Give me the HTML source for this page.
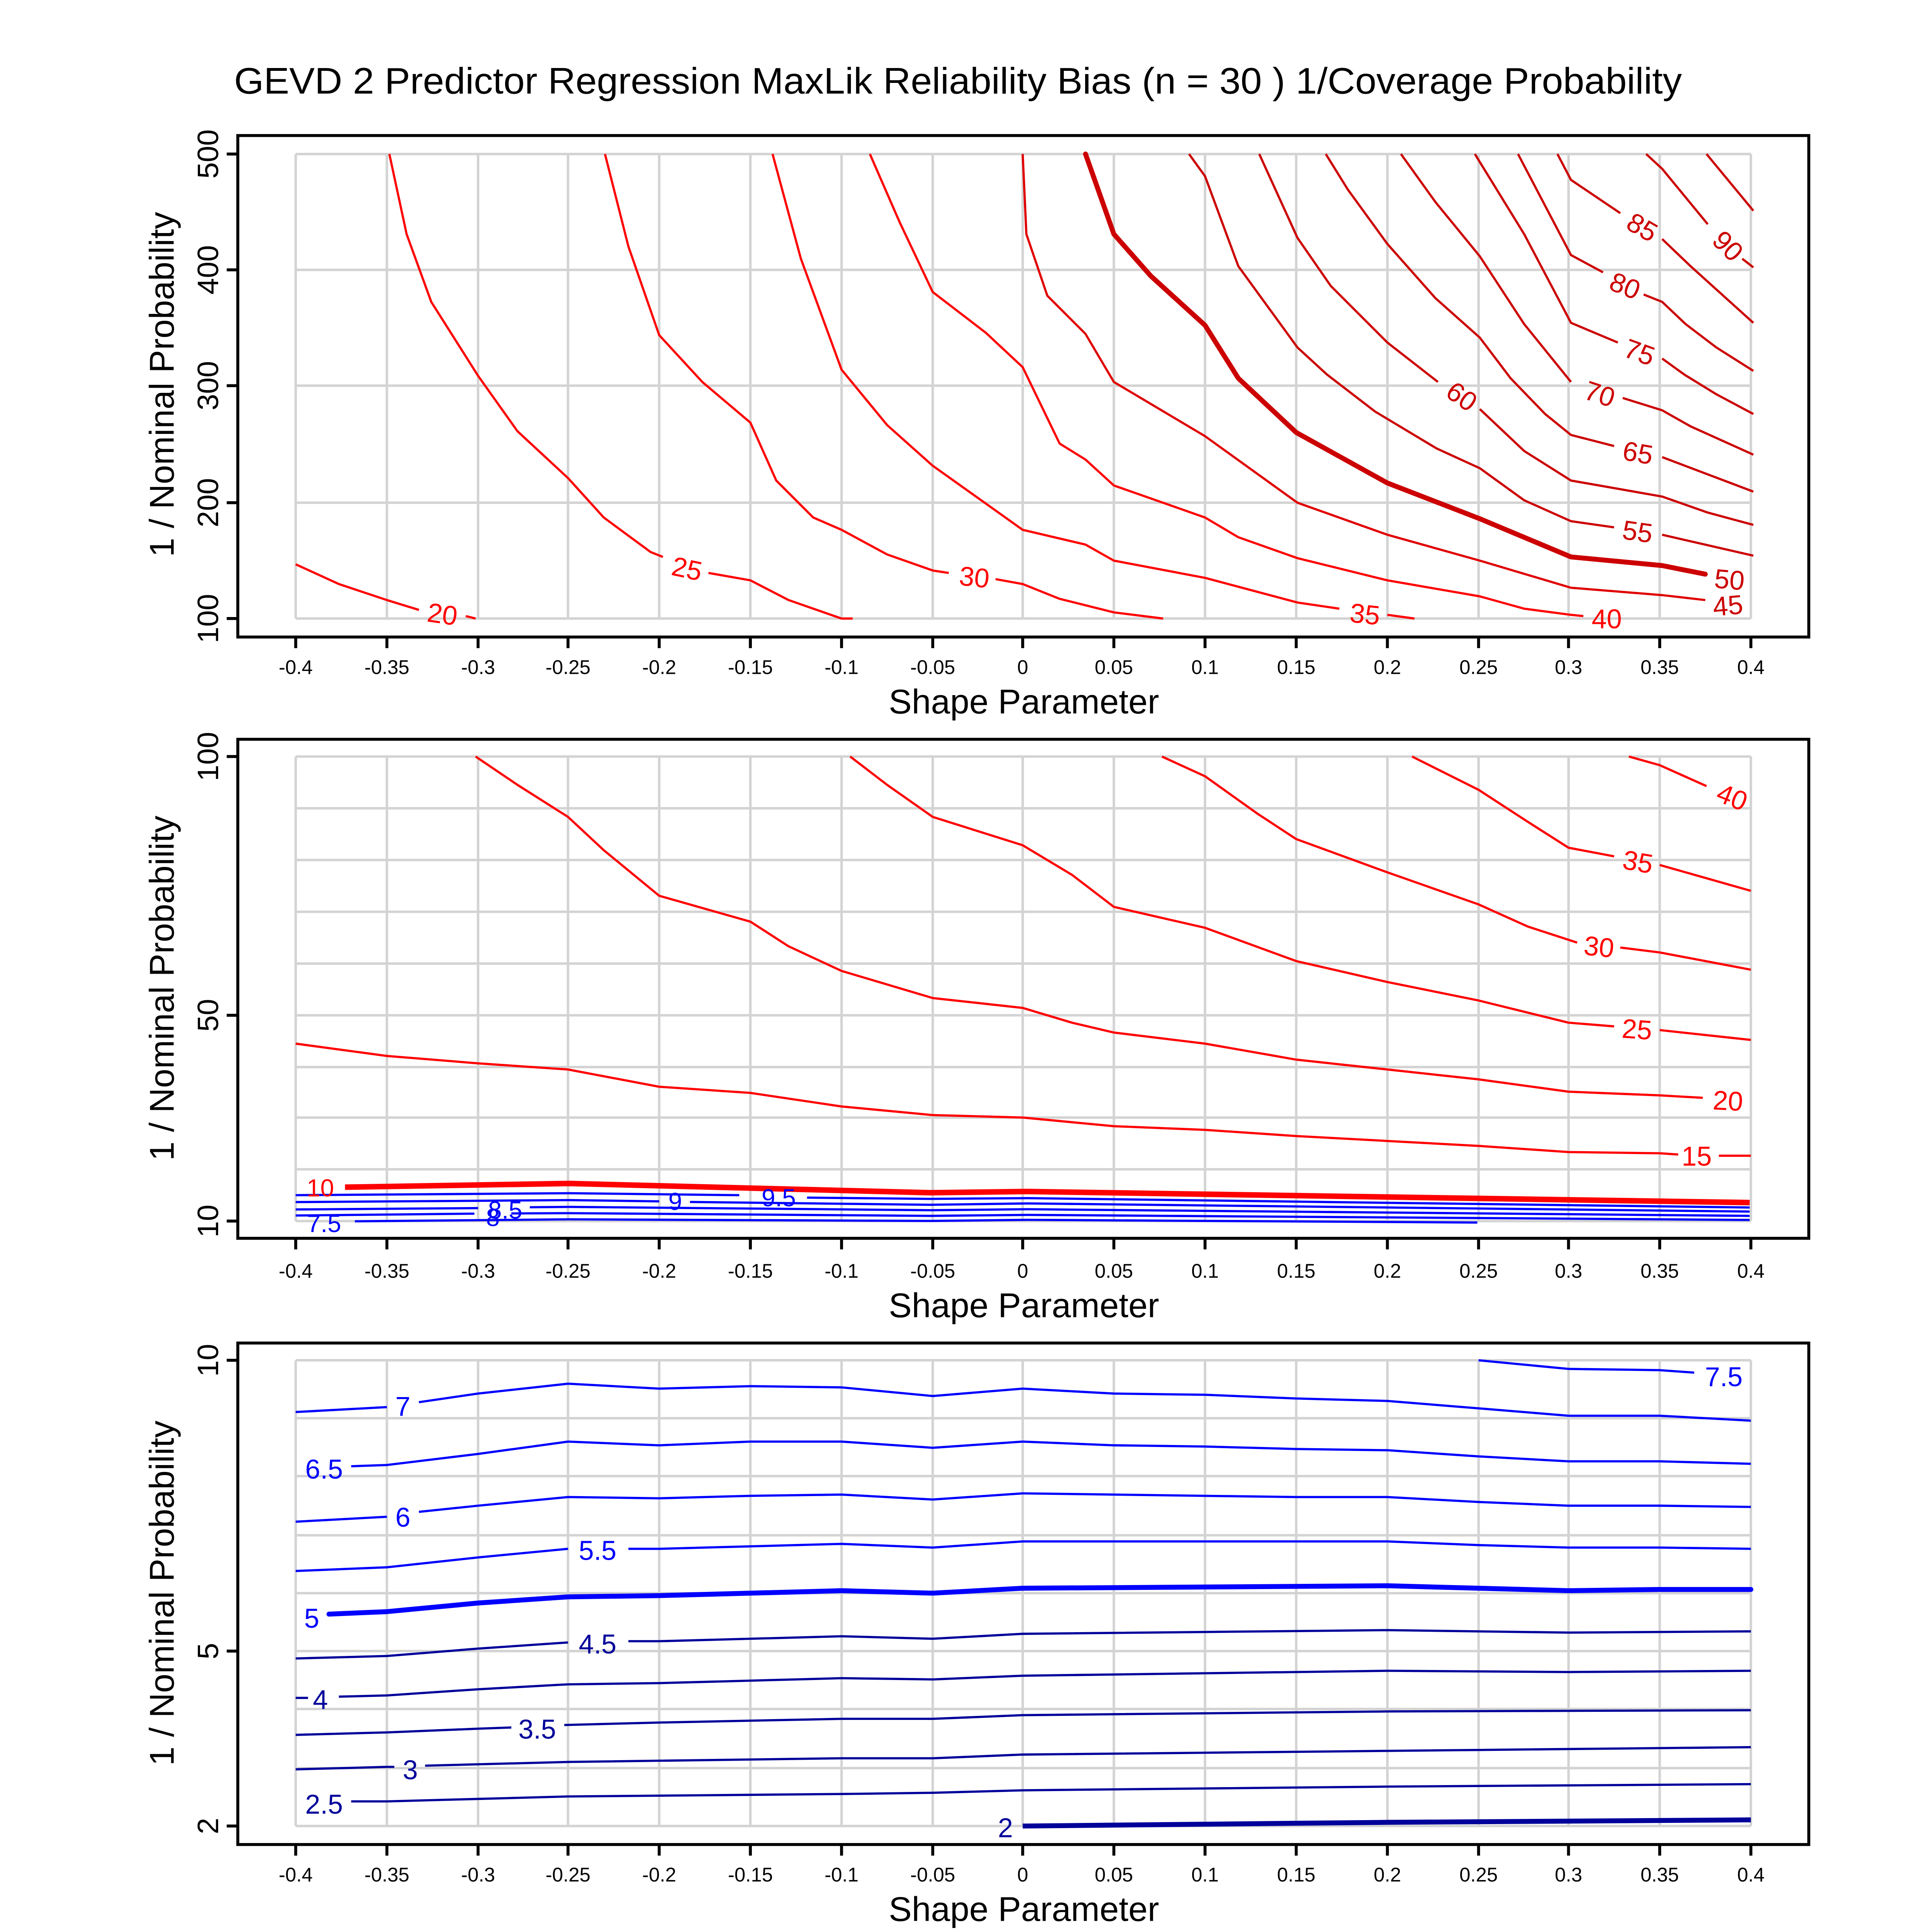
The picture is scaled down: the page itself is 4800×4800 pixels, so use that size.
<!DOCTYPE html>
<html><head><meta charset="utf-8"><style>html,body{margin:0;padding:0;background:#fff}svg{display:block}</style></head>
<body>
<svg xmlns="http://www.w3.org/2000/svg" width="4800" height="4800" viewBox="0 0 1568 1568" font-family="Liberation Sans, sans-serif">
<rect width="1568" height="1568" fill="#fff"/>
<text x="190" y="76" font-size="30" textLength="1175" lengthAdjust="spacingAndGlyphs">GEVD 2 Predictor Regression MaxLik Reliability Bias (n = 30 ) 1/Coverage Probability</text>

<!-- grid -->
<g stroke="#d3d3d3" stroke-width="2" fill="none">
<path d="M240,125V502M314,125V502M388,125V502M461,125V502M535,125V502M609,125V502M683,125V502M757,125V502M830,125V502M904,125V502M978,125V502M1052,125V502M1126,125V502M1200,125V502M1273,125V502M1347,125V502M1421,125V502"/>
<path d="M240,125H1421M240,219H1421M240,313H1421M240,408H1421M240,502H1421"/>
<path d="M240,614V991M314,614V991M388,614V991M461,614V991M535,614V991M609,614V991M683,614V991M757,614V991M830,614V991M904,614V991M978,614V991M1052,614V991M1126,614V991M1200,614V991M1273,614V991M1347,614V991M1421,614V991"/>
<path d="M240,614H1421M240,656H1421M240,698H1421M240,740H1421M240,782H1421M240,824H1421M240,866H1421M240,907H1421M240,949H1421M240,991H1421"/>
<path d="M240,1104V1482M314,1104V1482M388,1104V1482M461,1104V1482M535,1104V1482M609,1104V1482M683,1104V1482M757,1104V1482M830,1104V1482M904,1104V1482M978,1104V1482M1052,1104V1482M1126,1104V1482M1200,1104V1482M1273,1104V1482M1347,1104V1482M1421,1104V1482"/>
<path d="M240,1104H1421M240,1151H1421M240,1198H1421M240,1246H1421M240,1293H1421M240,1340H1421M240,1387H1421M240,1435H1421M240,1482H1421"/>
</g>

<!-- axes boxes & ticks -->
<g stroke="#000" stroke-width="2.4" fill="none">
<rect x="193" y="110" width="1275" height="407"/>
<rect x="193" y="600" width="1275" height="405"/>
<rect x="193" y="1090" width="1275" height="407"/>
<path d="M240,517v9M314,517v9M388,517v9M461,517v9M535,517v9M609,517v9M683,517v9M757,517v9M830,517v9M904,517v9M978,517v9M1052,517v9M1126,517v9M1200,517v9M1273,517v9M1347,517v9M1421,517v9"/>
<path d="M240,1005v9M314,1005v9M388,1005v9M461,1005v9M535,1005v9M609,1005v9M683,1005v9M757,1005v9M830,1005v9M904,1005v9M978,1005v9M1052,1005v9M1126,1005v9M1200,1005v9M1273,1005v9M1347,1005v9M1421,1005v9"/>
<path d="M240,1497v9M314,1497v9M388,1497v9M461,1497v9M535,1497v9M609,1497v9M683,1497v9M757,1497v9M830,1497v9M904,1497v9M978,1497v9M1052,1497v9M1126,1497v9M1200,1497v9M1273,1497v9M1347,1497v9M1421,1497v9"/>
<path d="M193,125h-9M193,219h-9M193,313h-9M193,408h-9M193,502h-9"/>
<path d="M193,614h-9M193,824h-9M193,991h-9"/>
<path d="M193,1104h-9M193,1340h-9M193,1482h-9"/>
</g>

<!-- x tick labels -->
<g font-size="16" text-anchor="middle">
<g id="xl">
<text x="240" y="547">-0.4</text><text x="314" y="547">-0.35</text><text x="388" y="547">-0.3</text><text x="461" y="547">-0.25</text><text x="535" y="547">-0.2</text><text x="609" y="547">-0.15</text><text x="683" y="547">-0.1</text><text x="757" y="547">-0.05</text><text x="830" y="547">0</text><text x="904" y="547">0.05</text><text x="978" y="547">0.1</text><text x="1052" y="547">0.15</text><text x="1126" y="547">0.2</text><text x="1200" y="547">0.25</text><text x="1273" y="547">0.3</text><text x="1347" y="547">0.35</text><text x="1421" y="547">0.4</text>
</g>
<use href="#xl" y="490"/>
<use href="#xl" y="980"/>
</g>
<g font-size="28" text-anchor="middle">
<text x="831" y="579">Shape Parameter</text>
<text x="831" y="1069">Shape Parameter</text>
<text x="831" y="1559">Shape Parameter</text>
<text transform="translate(141,312) rotate(-90)">1 / Nominal Probability</text>
<text transform="translate(141,802) rotate(-90)">1 / Nominal Probability</text>
<text transform="translate(141,1293) rotate(-90)">1 / Nominal Probability</text>
</g>
<g font-size="24" text-anchor="middle">
<text transform="translate(177,125) rotate(-90)">500</text>
<text transform="translate(177,219) rotate(-90)">400</text>
<text transform="translate(177,313) rotate(-90)">300</text>
<text transform="translate(177,408) rotate(-90)">200</text>
<text transform="translate(177,502) rotate(-90)">100</text>
<text transform="translate(177,614) rotate(-90)">100</text>
<text transform="translate(177,824) rotate(-90)">50</text>
<text transform="translate(177,991) rotate(-90)">10</text>
<text transform="translate(177,1104) rotate(-90)">10</text>
<text transform="translate(177,1340) rotate(-90)">5</text>
<text transform="translate(177,1482) rotate(-90)">2</text>
</g>

<!-- Panel 1 contours -->
<g fill="none" stroke="#ff0000" stroke-width="1.8" stroke-linejoin="round">
<polyline points="240,458 275,474 314,487 340,495"/><polyline points="378,500 386,502"/>
<polyline points="316,125 330,190 350,245 388,305 420,350 461,388 490,420 528,448 538,452"/><polyline points="575,465 609,471 640,487 683,502 692,502"/>
<polyline points="491,125 510,200 535,272 570,310 609,343 630,390 660,420 683,430 720,450 757,463 770,465"/><polyline points="808,470 830,474 860,486 904,497 944,502"/>
<polyline points="627,125 650,210 683,300 720,345 757,378 830,430 881,442 904,455 978,469 1053,489 1087,494"/><polyline points="1126,499 1148,502"/>
<polyline points="706,125 730,180 757,237 800,270 830,298 860,360 881,373 904,394 978,420 1005,436 1053,453 1126,471 1201,484 1237,494 1275,499 1285,500"/>
</g>
<g fill="none" stroke="#e00000" stroke-width="1.8" stroke-linejoin="round">
<polyline points="830,125 833,190 850,240 881,271 904,310 978,354 1053,408 1126,434 1201,455 1275,477 1349,483 1384,487"/>
</g>
<polyline fill="none" stroke="#cc0000" stroke-width="4" stroke-linejoin="round" stroke-linecap="round" points="881,125 904,190 934,224 978,264 1005,307 1052,351 1126,392 1201,421 1275,452 1349,459 1384,466"/>
<g fill="none" stroke="#cc0000" stroke-width="1.8" stroke-linejoin="round">
<polyline points="965,125 978,143 1005,216 1053,282 1077,304 1116,334 1166,364 1201,380 1237,406 1275,423 1310,428"/><polyline points="1349,434 1423,451"/>
<polyline points="1022,125 1053,193 1080,232 1126,278 1167,310"/><polyline points="1201,332 1237,366 1275,390 1349,403 1386,416 1423,426"/>
<polyline points="1076,125 1094,154 1126,198 1165,242 1201,274 1226,307 1254,336 1275,353 1310,362"/><polyline points="1349,371 1386,385 1423,399"/>
<polyline points="1137,125 1165,164 1201,208 1237,263 1275,310"/><polyline points="1317,323 1349,333 1372,346 1423,369"/>
<polyline points="1197,125 1237,190 1275,262 1313,278"/><polyline points="1349,291 1367,304 1393,320 1423,336"/>
<polyline points="1232,125 1275,207 1301,221"/><polyline points="1334,239 1349,245 1368,263 1393,282 1423,301"/>
<polyline points="1264,125 1275,146 1315,173"/><polyline points="1349,194 1372,216 1423,262"/>
<polyline points="1336,125 1349,137 1386,182"/><polyline points="1414,210 1423,217"/>
<polyline points="1385,125 1423,171"/>
</g>
<g font-size="22" fill="#ff0000" text-anchor="middle">
<text transform="translate(358,506) rotate(8)">20</text>
<text transform="translate(556,469) rotate(12)">25</text>
<text transform="translate(790,476) rotate(6)">30</text>
<text transform="translate(1107,506) rotate(6)">35</text>
<text transform="translate(1304,510)">40</text>
</g>
<g font-size="22" fill="#cc0000" text-anchor="middle">
<text transform="translate(1403,499) rotate(-5)">45</text>
<text transform="translate(1403,478) rotate(5)">50</text>
<text transform="translate(1328,439) rotate(8)">55</text>
<text transform="translate(1182,328) rotate(35)">60</text>
<text transform="translate(1328,375) rotate(10)">65</text>
<text transform="translate(1296,327) rotate(18)">70</text>
<text transform="translate(1328,293) rotate(20)">75</text>
<text transform="translate(1316,239) rotate(22)">80</text>
<text transform="translate(1329,191) rotate(30)">85</text>
<text transform="translate(1397,205) rotate(45)">90</text>
</g>

<!-- Panel 2 contours -->
<g fill="none" stroke="#ff0000" stroke-width="1.8" stroke-linejoin="round">
<polyline points="240,847 314,857 388,863 461,868 535,882 609,887 683,898 757,905 830,907 904,914 978,917 1052,922 1126,926 1200,930 1273,935 1347,936 1362,937"/><polyline points="1395,938 1421,938"/>
<polyline points="386,614 420,637 461,663 490,690 535,727 609,748 640,768 683,788 757,810 830,818 870,830 904,838 978,847 1052,860 1126,868 1200,876 1273,886 1347,889 1382,891"/>
<polyline points="690,614 720,637 757,663 830,686 870,710 904,736 978,753 1052,780 1126,797 1200,812 1273,830 1310,833"/><polyline points="1347,836 1421,844"/>
<polyline points="943,614 978,630 1020,660 1052,681 1126,708 1200,734 1240,752 1280,765"/><polyline points="1315,769 1347,773 1421,787"/>
<polyline points="1146,614 1200,641 1240,667 1273,688 1310,695"/><polyline points="1347,702 1421,723"/>
<polyline points="1322,614 1347,621 1385,638"/>
</g>
<polyline fill="none" stroke="#ff0000" stroke-width="4.5" stroke-linejoin="round" points="280,963.5 462,960.5 755,968 834,967 1420,976"/>
<g fill="none" stroke="#0000ff" stroke-width="1.8" stroke-linejoin="round">
<polyline points="240,970 462,968.4 600,970"/><polyline points="655,972 755,973 834,972.4 1420,980"/>
<polyline points="240,975.6 462,974 535,975"/><polyline points="560,975.5 755,977.8 834,976.7 1420,983.3"/>
<polyline points="240,981.6 388,980.5"/><polyline points="430,979.8 462,979.5 755,982.2 834,981.4 1420,986.8"/>
<polyline points="240,986.5 385,985"/><polyline points="415,984.8 462,984.6 755,986.8 834,986 1420,990.1"/>
<polyline points="288,991.2 462,989.6 755,990.9 834,990 1199,992.2"/>
</g>
<g font-size="20" text-anchor="middle">
<text x="260" y="971" fill="#ff0000">10</text>
<text x="548" y="982" fill="#0000ff">9</text>
<text x="632" y="979" fill="#0000ff">9.5</text>
<text x="410" y="989" fill="#0000ff">8.5</text>
<text x="400" y="995" fill="#0000ff">8</text>
<text x="263" y="1000" fill="#0000ff">7.5</text>
</g>
<g font-size="22" fill="#ff0000" text-anchor="middle">
<text transform="translate(1377,946)">15</text>
<text transform="translate(1402,901) rotate(3)">20</text>
<text transform="translate(1328,843) rotate(4)">25</text>
<text transform="translate(1297,776) rotate(6)">30</text>
<text transform="translate(1328,707) rotate(10)">35</text>
<text transform="translate(1403,654) rotate(22)">40</text>
</g>

<!-- Panel 3 contours -->
<g fill="none" stroke="#0000ff" stroke-width="1.8" stroke-linejoin="round">
<polyline points="1200,1104 1273,1111 1347,1112 1375,1114"/>
<polyline points="240,1146 314,1142"/><polyline points="340,1138 388,1131 461,1123 535,1127 609,1125 683,1126 757,1133 830,1127 904,1131 978,1132 1052,1135 1126,1137 1200,1143 1273,1149 1347,1149 1421,1153"/>
<polyline points="285,1190 314,1189 388,1180 461,1170 535,1173 609,1170 683,1170 757,1175 830,1170 904,1173 978,1174 1052,1176 1126,1177 1200,1182 1273,1186 1347,1186 1421,1188"/>
<polyline points="240,1235 314,1231"/><polyline points="340,1227 388,1222 461,1215 535,1216 609,1214 683,1213 757,1217 830,1212 904,1213 978,1214 1052,1215 1126,1215 1200,1219 1273,1222 1347,1222 1421,1223"/>
<polyline points="240,1275 314,1272 388,1264 461,1257"/><polyline points="510,1257 535,1257 609,1255 683,1253 757,1256 830,1251 978,1251 1126,1251 1200,1254 1273,1256 1347,1256 1421,1257"/>
</g>
<polyline fill="none" stroke="#0000ff" stroke-width="4" stroke-linejoin="round" stroke-linecap="round" points="267,1310 314,1308 388,1301 461,1296 535,1295 609,1293 683,1291 757,1293 830,1289 978,1288 1126,1287 1200,1289 1273,1291 1347,1290 1421,1290"/>
<g fill="none" stroke="#00009a" stroke-width="1.8" stroke-linejoin="round">
<polyline points="240,1346 314,1344 388,1338 461,1333"/><polyline points="510,1332 535,1332 683,1328 757,1330 830,1326 1126,1323 1273,1325 1421,1324"/>
<polyline points="240,1378 250,1378"/><polyline points="275,1377 314,1376 388,1371 461,1367 535,1366 683,1362 757,1363 830,1360 1126,1356 1273,1357 1421,1356"/>
<polyline points="240,1408 314,1406 388,1403 415,1402"/><polyline points="458,1400 535,1398 683,1395 757,1395 830,1392 1126,1389 1421,1388"/>
<polyline points="240,1436 314,1434 320,1434"/><polyline points="345,1433 461,1430 683,1427 757,1427 830,1424 1126,1421 1421,1418"/>
<polyline points="285,1462 314,1462 461,1458 683,1456 757,1455 830,1453 1126,1450 1421,1448"/>
</g>
<polyline fill="none" stroke="#00009a" stroke-width="4" stroke-linejoin="round" points="830,1482 1126,1479 1421,1477"/>
<g font-size="22" text-anchor="middle">
<text x="1399" y="1125" fill="#0000ff">7.5</text>
<text x="327" y="1149" fill="#0000ff">7</text>
<text x="263" y="1200" fill="#0000ff">6.5</text>
<text x="327" y="1239" fill="#0000ff">6</text>
<text x="485" y="1266" fill="#0000ff">5.5</text>
<text x="253" y="1321" fill="#0000ff">5</text>
<text x="485" y="1342" fill="#00009a">4.5</text>
<text x="260" y="1387" fill="#00009a">4</text>
<text x="436" y="1411" fill="#00009a">3.5</text>
<text x="333" y="1444" fill="#00009a">3</text>
<text x="263" y="1472" fill="#00009a">2.5</text>
<text x="816" y="1491" fill="#00009a">2</text>
</g>
</svg>
</body></html>
